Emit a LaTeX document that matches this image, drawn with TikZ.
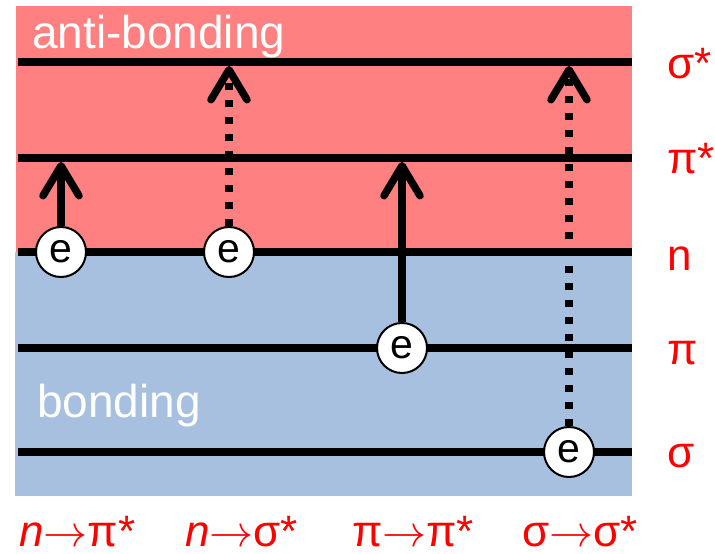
\documentclass[tikz,border=0pt]{standalone}
\usepackage{graphicx}
\usepackage{fontspec}
\setmainfont{Liberation Sans}
\usetikzlibrary{arrows.meta}
\definecolor{abred}{RGB}{255,128,128}
\definecolor{bblue}{RGB}{168,192,224}
\definecolor{lblred}{RGB}{255,0,0}
\newcommand{\tarr}{\resizebox{44pt}{!}{$\rightarrow$}}
\tikzset{
  level/.style={line width=8pt},
  elec/.style={circle,draw=black,line width=2pt,fill=white,minimum size=50pt,inner sep=0pt,font=\fontsize{41}{41}\selectfont},
  trans/.style={line width=7.5pt,-{Straight Barb[length=30pt,width=36pt,round]}},
  transdot/.style={trans,dash pattern=on 7pt off 10pt},
  orb/.style={anchor=base west,text=lblred,font=\fontsize{44}{44}\selectfont,inner sep=0pt},
  zone/.style={anchor=base west,text=white,font=\fontsize{46}{46}\selectfont,inner sep=0pt}
}
\begin{document}
\begin{tikzpicture}[x=1pt,y=-1pt]
\useasboundingbox (0,0) rectangle (715,554);
\fill[white] (0,0) rectangle (715,554);
% zones
\fill[abred] (16,6) rectangle (632,252);
\fill[bblue] (15,252) rectangle (632,496);
\node[zone] (ab) at (32,48) {anti-bonding};
\node[zone] (bd) at (37,417) {bonding};
% levels
\coordinate (s1a) at (18,62);  \coordinate (s1b) at (632,62);
\coordinate (p1a) at (18,158); \coordinate (p1b) at (632,158);
\coordinate (na)  at (18,252); \coordinate (nb)  at (632,252);
\coordinate (pa)  at (18,348); \coordinate (pb)  at (632,348);
\coordinate (sa)  at (18,452); \coordinate (sb)  at (632,452);
\draw[level] (s1a) -- (s1b);
\draw[level] (p1a) -- (p1b);
\draw[level] (na) -- (nb);
\draw[level] (pa) -- (pb);
\draw[level] (sa) -- (sb);
% orbital labels
\node[orb] (lss) at (667,78) {σ*};
\node[orb] (lps) at (667,173) {π*};
\node[orb] (ln)  at (667,270) {n};
\node[orb] (lp)  at (667,364) {π};
\node[orb] (ls)  at (667,467) {σ};
% electrons
\node[elec] (e1) at (61,252) {e};
\node[elec] (e2) at (229,252) {e};
\node[elec] (e3) at (402,348) {e};
\node[elec] (e4) at (569,452) {e};
% targets
\coordinate (t1) at (61,162);
\coordinate (t2) at (229,66);
\coordinate (t3) at (402,162);
\coordinate (t4) at (569,66);
\draw[trans] (e1.north) -- (t1);
\draw[transdot] (e2.north) -- (t2);
\draw[trans] (e3.north) -- (t3);
\draw[transdot] (e4.north) -- (t4);
% transition labels
\node[orb] (tl1) at (19,546)  {\textit{n}\tarr π*};
\node[orb] (tl2) at (185,546) {\textit{n}\tarr σ*};
\node[orb] (tl3) at (352,546) {π\tarr π*};
\node[orb] (tl4) at (522,546) {σ\tarr σ*};
\end{tikzpicture}
\end{document}
